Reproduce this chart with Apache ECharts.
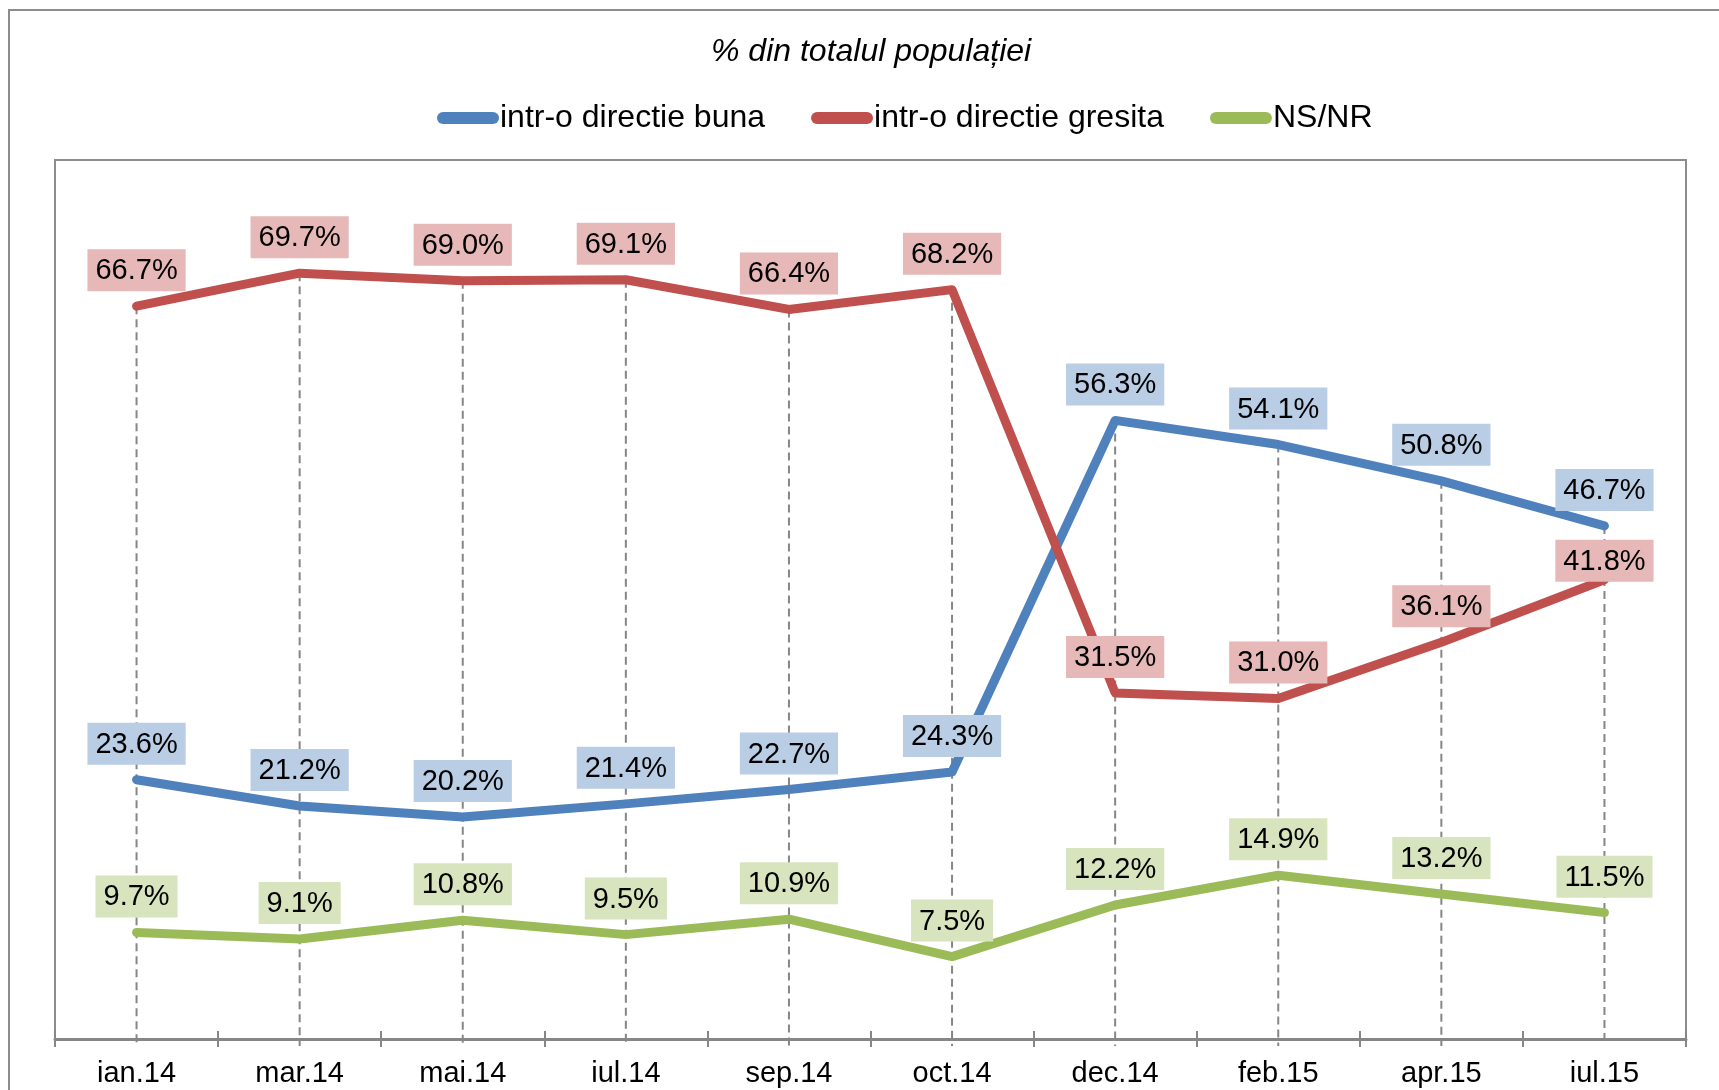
<!DOCTYPE html>
<html>
<head>
<meta charset="utf-8">
<script src="https://cdn.jsdelivr.net/npm/echarts@6/dist/echarts.min.js"></script>
<style>
html,body{margin:0;padding:0;background:#fff;}
#chart{width:1719px;height:1090px;}
</style>
</head>
<body>
<div id="chart"></div>
<script>
const categories = ['ian.14','mar.14','mai.14','iul.14','sep.14','oct.14','dec.14','feb.15','apr.15','iul.15'];
const buna = [23.6, 21.2, 20.2, 21.4, 22.7, 24.3, 56.3, 54.1, 50.8, 46.7];
const gresita = [66.7, 69.7, 69.0, 69.1, 66.4, 68.2, 31.5, 31.0, 36.1, 41.8];
const nsnr = [9.7, 9.1, 10.8, 9.5, 10.9, 7.5, 12.2, 14.9, 13.2, 11.5];
const seriesNames = ['intr-o directie buna', 'intr-o directie gresita', 'NS/NR'];

const FONT = "'Liberation Sans', Arial, sans-serif";
const dropTop = categories.map((c, i) => Math.max(buna[i], gresita[i], nsnr[i]));

function lineSeries(name, data, color, bg, overrides) {
  overrides = overrides || {};
  return {
    name: name,
    type: 'line',
    data: data.map((v, i) => overrides[i] ? Object.assign({ value: v }, overrides[i]) : v),
    symbol: 'circle',
    symbolSize: 2,
    showSymbol: true,
    itemStyle: { color: color },
    lineStyle: { color: color, width: 9, cap: 'round', join: 'round' },
    z: 3,
    label: {
      show: true,
      position: 'top',
      distance: 14,
      formatter: p => p.value.toFixed(1) + '%',
      fontFamily: FONT,
      fontSize: 29,
      color: '#000',
      backgroundColor: bg,
      padding: [5, 8, 3, 8],
      lineHeight: 34
    },
    emphasis: { disabled: true },
    animation: false
  };
}

const chart = echarts.init(document.getElementById('chart'), null, { renderer: 'canvas' });
chart.setOption({
  animation: false,
  backgroundColor: '#fff',
  graphic: [{
    type: 'rect',
    shape: { x: 9, y: 10, width: 1800, height: 1200 },
    style: { fill: 'none', stroke: '#8c8c8c', lineWidth: 2 },
    silent: true,
    z: -10
  }],
  title: {
    text: '% din totalul populației',
    left: 706,
    top: 31,
    textStyle: { fontFamily: FONT, fontSize: 32, fontStyle: 'italic', fontWeight: 'normal', color: '#000' }
  },
  legend: {
    left: 432,
    top: 97,
    itemWidth: 62,
    itemHeight: 12,
    itemGap: 46,
    icon: 'path://M6,0 H56 A6,6 0 0 1 56,12 H6 A6,6 0 0 1 6,0 Z',
    data: seriesNames,
    textStyle: { fontFamily: FONT, fontSize: 32, color: '#000', padding: [0, 0, 0, -4] }
  },
  grid: { left: 55, right: 33, top: 160, bottom: 51, show: true, borderColor: '#8c8c8c', borderWidth: 2, containLabel: false },
  xAxis: [{
    type: 'category',
    data: categories,
    boundaryGap: true,
    position: 'bottom',
    axisLine: { show: true, lineStyle: { color: '#868686', width: 3 } },
    axisTick: { show: true, alignWithLabel: false, length: 8, lineStyle: { color: '#868686', width: 2 } },
    axisLabel: { fontFamily: FONT, fontSize: 29, color: '#000', margin: 20 },
    splitLine: { show: false },
    z: 5
  }, {
    type: 'category',
    data: categories,
    boundaryGap: true,
    position: 'bottom',
    axisLine: { show: false },
    axisTick: { show: true, inside: true, alignWithLabel: false, length: 8, lineStyle: { color: '#868686', width: 2 } },
    axisLabel: { show: false },
    splitLine: { show: false }
  }],
  yAxis: {
    type: 'value',
    min: 0,
    max: 80,
    interval: 10,
    show: false,
    splitLine: { show: false }
  },
  series: [
    {
      name: 'drop',
      type: 'custom',
      data: dropTop.map((v, i) => [i, v]),
      z: 1,
      silent: true,
      renderItem: function (params, api) {
        const top = api.coord([api.value(0), api.value(1)]);
        const base = api.coord([api.value(0), 0]);
        return {
          type: 'line',
          shape: { x1: top[0], y1: top[1], x2: base[0], y2: base[1] + 7 },
          style: { stroke: '#868686', lineWidth: 2, lineDash: [8, 5] }
        };
      }
    },
    lineSeries(seriesNames[0], buna, '#4F81BD', '#B9CDE5'),
    lineSeries(seriesNames[1], gresita, '#C0504D', '#E6B9B8', { 9: { label: { distance: -3 } } }),
    lineSeries(seriesNames[2], nsnr, '#9BBB59', '#D7E4BD')
  ]
});
</script>
</body>
</html>
